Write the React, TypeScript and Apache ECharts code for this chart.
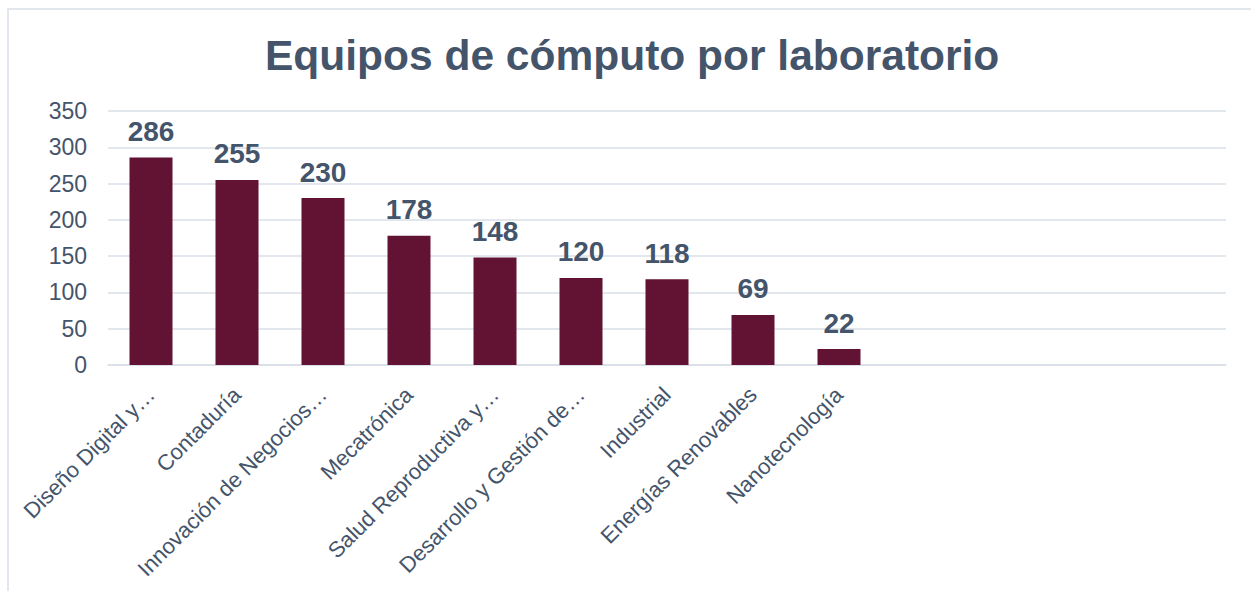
import React, { useEffect, useRef } from "react";
import * as echarts from "echarts";

const titleText = "Equipos de cómputo por laboratorio";
const categories = [
  "Diseño Digital y…",
  "Contaduría",
  "Innovación de Negocios…",
  "Mecatrónica",
  "Salud Reproductiva y…",
  "Desarrollo y Gestión de…",
  "Industrial",
  "Energías Renovables",
  "Nanotecnología",
  " ",
  "  ",
  "   ",
  "    ",
];
const values: (number | null)[] = [286, 255, 230, 178, 148, 120, 118, 69, 22, null, null, null, null];
const yMin = 0;
const yMax = 350;
const yStep = 50;

const TEXT = "#44546A";
const GRID = "#D9DEE7";
const BAR = "#621232";

export default function App() {
  const ref = useRef<HTMLDivElement>(null);
  useEffect(() => {
    if (!ref.current) return;
    const chart = echarts.init(ref.current, undefined, { renderer: "svg" });
    chart.setOption({
      animation: false,
      backgroundColor: "#ffffff",
      title: {
        text: titleText,
        left: 260,
        top: 29,
        textStyle: { fontFamily: "Arial, Liberation Sans", fontSize: 42.5, fontWeight: "bold", color: TEXT },
      },
      graphic: [
        {
          type: "rect",
          shape: { x: 8, y: 9, width: 1300, height: 700 },
          style: { fill: "none", stroke: GRID, lineWidth: 1.5 },
          silent: true,
          z: -1,
        },
      ],
      grid: { left: 108, right: 25, top: 111, bottom: 226, containLabel: false },
      xAxis: {
        type: "category",
        data: categories,
        axisLine: { show: true, lineStyle: { color: GRID, width: 1.5 } },
        axisTick: { show: false },
        axisLabel: {
          rotate: 45,
          interval: 0,
          margin: 26,
          fontFamily: "Arial, Liberation Sans",
          fontSize: 22,
          color: TEXT,
        },
      },
      yAxis: {
        type: "value",
        min: yMin,
        max: yMax,
        interval: yStep,
        axisLine: { show: false },
        axisTick: { show: false },
        splitLine: { lineStyle: { color: GRID, width: 1.5 } },
        axisLabel: { margin: 21, fontFamily: "Arial, Liberation Sans", fontSize: 23, color: TEXT },
      },
      series: [
        {
          type: "bar",
          data: values,
          barCategoryGap: "50%",
          itemStyle: { color: BAR },
          label: {
            show: true,
            position: "top",
            distance: 12,
            fontFamily: "Arial, Liberation Sans",
            fontSize: 28,
            fontWeight: "bold",
            color: TEXT,
          },
        },
      ],
    });
    return () => chart.dispose();
  }, []);
  return (
    <div
      ref={ref}
      style={{ position: "fixed", left: 0, top: 0, width: 1251, height: 591 }}
    />
  );
}
